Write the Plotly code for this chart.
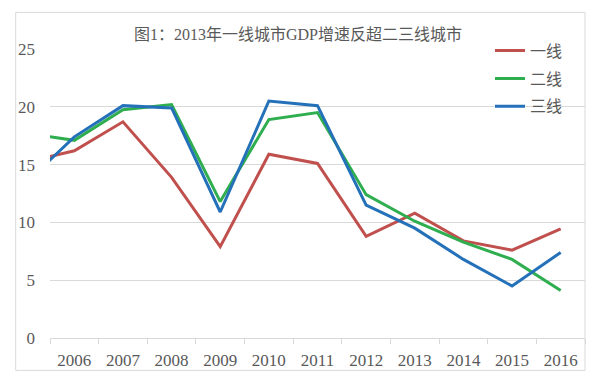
import plotly.graph_objects as go

years = ["2005", "2006", "2007", "2008", "2009", "2010", "2011", "2012", "2013", "2014", "2015", "2016"]
tier1 = [15.2, 16.2, 18.7, 13.9, 7.9, 15.9, 15.1, 8.8, 10.8, 8.4, 7.6, 9.45]
tier2 = [17.7, 17.1, 19.75, 20.2, 11.8, 18.9, 19.5, 12.4, 10.1, 8.3, 6.8, 4.1]
tier3 = [13.4, 17.4, 20.1, 19.9, 10.9, 20.5, 20.1, 11.5, 9.5, 6.8, 4.5, 7.4]
names = ["一线", "二线", "三线"]
colors = ["#C0504D", "#2EAE4F", "#2471B9"]
title = "图1：2013年一线城市GDP增速反超二三线城市"

TXT = "#595959"
FONT = "Liberation Serif, Noto Sans CJK SC, serif"
W, H = 592, 377
L, T, R, B = 42, 41.3, 15, 46.7
PW, PH = W - L - R, H - T - B

fig = go.Figure()
for i, (nm, vals) in enumerate(zip(names, [tier1, tier2, tier3])):
    fig.add_trace(go.Scatter(
        x=years, y=vals, mode="lines", name=nm, legendgroup=nm,
        line=dict(color=colors[i], width=3), cliponaxis=True,
    ))

fig.update_layout(
    width=W, height=H,
    margin=dict(l=L, r=R, t=T, b=B, autoexpand=False),
    paper_bgcolor="white", plot_bgcolor="white",
    title=dict(text=title, x=290/W, xanchor="center", xref="container",
               y=1-26/H, yanchor="middle", yref="container",
               font=dict(family=FONT, size=16, color=TXT)),
    legend=dict(xref="container", yref="container", x=482/W, xanchor="left",
                y=1-25.7/H, yanchor="top", bgcolor="rgba(0,0,0,0)",
                font=dict(family="Noto Sans CJK SC", size=16, color=TXT),
                tracegroupgap=4),
    showlegend=True,
    xaxis=dict(type="category", categoryorder="array", categoryarray=years,
               range=[0.5, 11.5], tickson="boundaries", ticks="outside",
               ticklen=5, tickcolor="#D9D9D9", showline=True, linecolor="#D9D9D9",
               linewidth=1, showgrid=False, zeroline=False, tickangle=0,
               automargin=False, ticklabelstandoff=7,
               tickfont=dict(family=FONT, size=17, color=TXT)),
    yaxis=dict(range=[0, 25], tickvals=[0, 5, 10, 15, 20, 25], showgrid=True,
               gridcolor="#D9D9D9", gridwidth=1, zeroline=False, showline=False,
               ticks="", ticklabelstandoff=14, automargin=False,
               tickfont=dict(family=FONT, size=17, color=TXT)),
)

fig.add_shape(type="rect", xref="paper", yref="paper",
              x0=(7.7 - L)/PW, x1=1.0, y0=(PH + T - 362.7)/PH, y1=(PH + T - 4.7)/PH,
              line=dict(color="#D9D9D9", width=1), layer="below")

fig.write_html("out.html")
